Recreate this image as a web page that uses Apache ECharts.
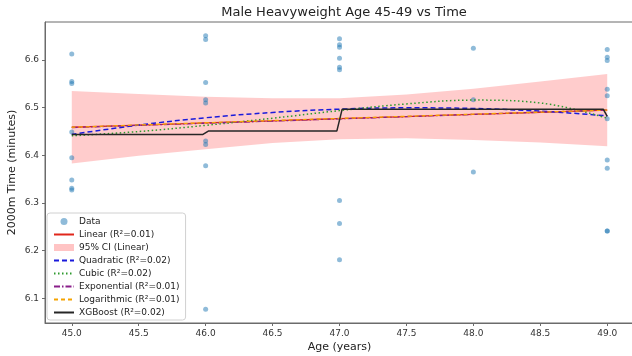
<!DOCTYPE html>
<html style="height: 100%">
<head>
<meta charset="utf-8">
</head>
<body style="height: 100%; margin: 0; background: #fff">
	<div id="container" style="width: 632px; height: 356px"></div>
	<script type="text/javascript" src="https://cdn.jsdelivr.net/npm/echarts@6/dist/echarts.min.js"></script>
	<script type="text/javascript">
		// observed points, grouped by age
		var ages = [45, 46, 47, 48, 49];
		var times = [
			[6.613, 6.555, 6.551, 6.449, 6.395, 6.348, 6.331, 6.327],
			[6.651, 6.643, 6.553, 6.517, 6.510, 6.430, 6.423, 6.378, 6.077],
			[6.645, 6.632, 6.627, 6.604, 6.585, 6.580, 6.305, 6.257, 6.181],
			[6.625, 6.517, 6.365],
			[6.622, 6.606, 6.599, 6.539, 6.525, 6.477, 6.390, 6.373, 6.241, 6.241]
		];

		// fitted curves, read at these ages
		var fitX = [45, 45.5, 46, 46.5, 47, 47.5, 48, 48.5, 49];
		var linearY = [6.459, 6.4635, 6.468, 6.4725, 6.477, 6.4815, 6.486, 6.4905, 6.495];
		var ciLow = [6.383, 6.399, 6.413, 6.426, 6.434, 6.436, 6.432, 6.427, 6.419];
		var ciHigh = [6.535, 6.529, 6.523, 6.520, 6.520, 6.528, 6.540, 6.555, 6.571];
		var quadY = [6.444, 6.4635, 6.479, 6.490, 6.497, 6.4998, 6.4984, 6.4928, 6.483];
		var cubicY = [6.441, 6.450, 6.463, 6.478, 6.494, 6.508, 6.516, 6.510, 6.478];
		var expY = [6.4585, 6.463, 6.4675, 6.472, 6.4767, 6.4813, 6.486, 6.4906, 6.4952];
		var logY = [6.459, 6.4638, 6.4685, 6.4731, 6.4776, 6.482, 6.4864, 6.4907, 6.495];
		var xgbX = [45, 45.98, 46.02, 46.98, 47.02, 48.97, 49];
		var xgbY = [6.444, 6.444, 6.451, 6.451, 6.497, 6.497, 6.482];

		var names = {
			data: 'Data',
			lin: 'Linear (R\u00b2=0.01)',
			ci: '95% CI (Linear)',
			quad: 'Quadratic (R\u00b2=0.02)',
			cub: 'Cubic (R\u00b2=0.02)',
			exp: 'Exponential (R\u00b2=0.01)',
			log: 'Logarithmic (R\u00b2=0.01)',
			xgb: 'XGBoost (R\u00b2=0.02)'
		};

		function pairs(xs, ys) {
			var out = [];
			for (var i = 0; i < xs.length; i++) out.push([xs[i], ys[i]]);
			return out;
		}

		var points = [];
		ages.forEach(function(a, i) {
			times[i].forEach(function(t) { points.push([a, t]); });
		});

		var font = 'DejaVu Sans';
		var frame = '#6b6b6b';
		var ciFill = 'rgba(255,0,0,0.2)';

		function fitLine(name, ys, color, type, width) {
			return {
				name: name, type: 'line', data: pairs(fitX, ys), smooth: 0.4,
				symbol: 'none', lineStyle: { color: color, type: type, width: width },
				itemStyle: { color: color }, z: 3
			};
		}

		// confidence band as one polygon through the axis scales
		function renderBand(params, api) {
			if (params.dataIndex !== 0) return;
			var pts = [];
			for (var i = 0; i < fitX.length; i++) pts.push(api.coord([fitX[i], ciHigh[i]]));
			for (var j = fitX.length - 1; j >= 0; j--) pts.push(api.coord([fitX[j], ciLow[j]]));
			return {
				type: 'polygon', shape: { points: pts },
				style: { fill: ciFill }
			};
		}

		var myChart = echarts.init(document.getElementById('container'));
		var option = {
			animation: false,
			textStyle: { fontFamily: font },
			title: {
				text: 'Male Heavyweight Age 45-49 vs Time',
				left: 339, top: 1, textAlign: 'center',
				textStyle: { fontFamily: font, fontSize: 13, fontWeight: 'normal', color: '#222' }
			},
			grid: {
				left: 45, width: 589, top: 22, bottom: 33,
				outerBoundsMode: 'none', containLabel: false,
				show: true, borderColor: frame, borderWidth: 1
			},
			xAxis: {
				type: 'value', min: 44.8, max: 49.2, splitNumber: 9,
				name: 'Age (years)', nameLocation: 'middle', nameGap: 19,
				nameMoveOverlap: false,
				nameTextStyle: { fontFamily: font, fontSize: 11, color: '#222' },
				axisLine: { show: true, lineStyle: { color: frame } },
				axisTick: { show: true, length: 3, lineStyle: { color: frame } },
				axisLabel: {
					showMinLabel: false, showMaxLabel: false, margin: 6,
					fontSize: 9, color: '#333',
					formatter: function(v) { return v.toFixed(1); }
				},
				splitLine: { show: false }
			},
			yAxis: {
				type: 'value', min: 6.048, max: 6.680, splitNumber: 6,
				name: '2000m Time (minutes)', nameLocation: 'middle', nameGap: 27,
				nameMoveOverlap: false,
				nameTextStyle: { fontFamily: font, fontSize: 11, color: '#222' },
				axisLine: { show: true, lineStyle: { color: frame } },
				axisTick: { show: true, length: 3, lineStyle: { color: frame } },
				axisLabel: {
					showMinLabel: false, showMaxLabel: false, margin: 6,
					fontSize: 9, color: '#333',
					formatter: function(v) { return v.toFixed(1); }
				},
				splitLine: { show: false }
			},
			legend: {
				orient: 'vertical', left: 47, top: 213,
				itemWidth: 20, itemHeight: 7, itemGap: 4,
				padding: [4, 6, 3, 6],
				backgroundColor: 'rgba(255,255,255,0.85)',
				borderColor: '#d0d0d0', borderWidth: 1, borderRadius: 3,
				textStyle: { fontFamily: font, fontSize: 9, color: '#222' },
				itemStyle: { opacity: 0 },
				data: [
					{ name: names.data, icon: 'circle', itemStyle: { color: '#8fbbd9', opacity: 1 } },
					names.lin,
					{ name: names.ci, icon: 'rect', itemStyle: { color: '#ffc4c4', opacity: 1 } },
					names.quad, names.cub, names.exp, names.log, names.xgb
				]
			},
			series: [
				{
					name: names.data, type: 'scatter', data: points, symbolSize: 5,
					itemStyle: { color: '#1f77b4', opacity: 0.5 }, z: 2
				},
				fitLine(names.lin, linearY, '#e0261b', 'solid', 1.3),
				{
					name: names.ci, type: 'custom', data: pairs(fitX, ciLow),
					encode: { x: 0, y: 1 }, renderItem: renderBand,
					itemStyle: { color: '#ffc4c4' }, z: 2, silent: true
				},
				fitLine(names.quad, quadY, '#1a1adb', [5, 3], 1.5),
				fitLine(names.cub, cubicY, '#2e9a2e', [1.5, 2.5], 1.5),
				fitLine(names.exp, expY, '#8a1f8a', [6, 2, 1.5, 2], 1.3),
				fitLine(names.log, logY, '#f5a300', [4, 3], 1.3),
				{
					name: names.xgb, type: 'line', data: pairs(xgbX, xgbY),
					symbol: 'none', lineStyle: { color: '#262626', width: 1.5 },
					itemStyle: { color: '#262626' }, z: 4
				}
			]
		};
		myChart.setOption(option, true);
	</script>
</body>
</html>
